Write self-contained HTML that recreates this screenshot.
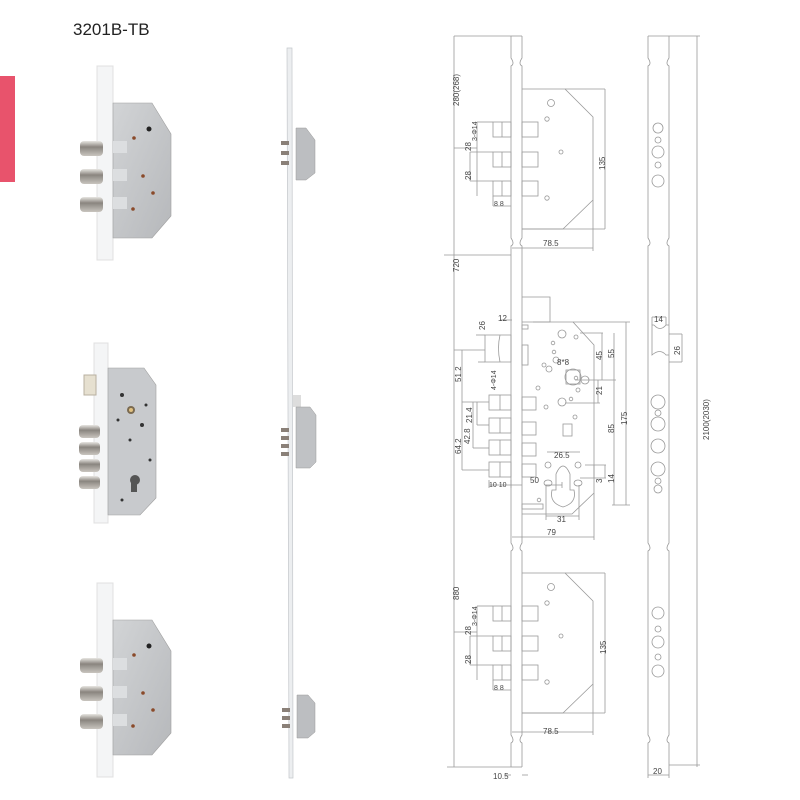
<!DOCTYPE html>
<html><head><meta charset="utf-8"><style>
html,body{margin:0;padding:0;background:#fff;}
svg{display:block;}
text{font-family:"Liberation Sans",sans-serif;fill:#444;}
</style></head><body>
<svg width="800" height="800" viewBox="0 0 800 800" xmlns="http://www.w3.org/2000/svg">
<defs>
<linearGradient id="bolt" x1="0" y1="0" x2="0" y2="1">
<stop offset="0" stop-color="#e8e6e2"/><stop offset="0.4" stop-color="#8a857f"/><stop offset="1" stop-color="#c9c5bf"/>
</linearGradient>
<linearGradient id="plate" x1="0" y1="0" x2="1" y2="1">
<stop offset="0" stop-color="#d2d4d6"/><stop offset="1" stop-color="#b6b8bb"/>
</linearGradient>
<g id="photo3">
<rect x="97" y="0" width="16" height="194" fill="#f4f5f6" stroke="#e0e0e0"/>
<path d="M113 37 L152 37 L171 68 L171 150 L152 172 L113 172 Z" fill="url(#plate)" stroke="#a0a0a0" stroke-width="0.6"/>
<rect x="113" y="75" width="14" height="12" fill="#dcdee0"/><rect x="113" y="103" width="14" height="12" fill="#dcdee0"/><rect x="113" y="131" width="14" height="12" fill="#dcdee0"/>
<rect x="80" y="75" width="23" height="15" rx="4" fill="url(#bolt)"/>
<rect x="80" y="103" width="23" height="15" rx="4" fill="url(#bolt)"/>
<rect x="80" y="131" width="23" height="15" rx="4" fill="url(#bolt)"/>
<circle cx="149" cy="63" r="2.5" fill="#222"/>
<circle cx="134" cy="72" r="1.8" fill="#8a4a2a"/><circle cx="143" cy="110" r="1.8" fill="#8a4a2a"/><circle cx="153" cy="127" r="1.8" fill="#8a4a2a"/><circle cx="133" cy="143" r="1.8" fill="#8a4a2a"/>
</g>
<g id="lock3" fill="none" stroke="#999" stroke-width="0.8">
<path d="M522 0 L565 0 L593 28 L593 111 L563 140 L522 140"/>
<line x1="522" y1="140" x2="605" y2="140"/><line x1="565" y1="0" x2="605" y2="0"/>
<line x1="605" y1="0" x2="605" y2="140"/>
<rect x="522" y="33" width="16" height="15"/><rect x="522" y="63" width="16" height="15"/><rect x="522" y="92" width="16" height="15"/>
<rect x="493" y="33" width="18" height="15"/><line x1="502" y1="33" x2="502" y2="48"/>
<rect x="493" y="63" width="18" height="15"/><line x1="502" y1="63" x2="502" y2="78"/>
<rect x="493" y="92" width="18" height="15"/><line x1="502" y1="92" x2="502" y2="107"/>
<circle cx="551" cy="14" r="3.5"/><circle cx="547" cy="30" r="2.2"/><circle cx="561" cy="63" r="2"/><circle cx="547" cy="109" r="2.2"/>
<line x1="477" y1="33" x2="493" y2="33"/><line x1="477" y1="33" x2="477" y2="107"/>
<line x1="470" y1="63" x2="493" y2="63"/><line x1="470" y1="92" x2="493" y2="92"/>
<line x1="470" y1="63" x2="470" y2="92"/>
<line x1="454" y1="59" x2="477" y2="59"/>
<line x1="493" y1="107" x2="493" y2="117"/><line x1="511" y1="117" x2="493" y2="117"/>
<line x1="512" y1="159" x2="593" y2="159"/><line x1="593" y1="111" x2="593" y2="162"/>
</g>
</defs>

<text x="73" y="35" font-size="17" style="fill:#222">3201B-TB</text>
<rect x="0" y="76" width="15" height="106" fill="#e8536c"/>

<use href="#photo3" transform="translate(0,66)"/>
<use href="#photo3" transform="translate(0,583)"/>
<!-- middle photo -->
<rect x="94" y="343" width="14" height="180" fill="#f4f5f6" stroke="#e0e0e0"/>
<rect x="84" y="375" width="12" height="20" fill="#e6e0d0" stroke="#b8b0a0"/>
<path d="M108 368 L144 368 L156 385 L156 498 L140 515 L108 515 Z" fill="#c8cacd" stroke="#a0a0a0" stroke-width="0.6"/>
<circle cx="131" cy="410" r="4" fill="#7a6a50"/><circle cx="131" cy="410" r="2" fill="#e0c080"/>
<circle cx="135" cy="480" r="5" fill="#555"/><rect x="131" y="480" width="6" height="12" fill="#555"/>
<circle cx="122" cy="395" r="2" fill="#333"/><circle cx="142" cy="425" r="2" fill="#333"/><circle cx="130" cy="440" r="1.5" fill="#333"/><circle cx="146" cy="405" r="1.5" fill="#333"/>
<circle cx="118" cy="420" r="1.5" fill="#333"/><circle cx="150" cy="460" r="1.5" fill="#333"/><circle cx="122" cy="500" r="1.5" fill="#333"/>
<rect x="79" y="425" width="21" height="13" rx="4" fill="url(#bolt)"/>
<rect x="79" y="442" width="21" height="13" rx="4" fill="url(#bolt)"/>
<rect x="79" y="459" width="21" height="13" rx="4" fill="url(#bolt)"/>
<rect x="79" y="476" width="21" height="13" rx="4" fill="url(#bolt)"/>

<!-- long rod -->
<polygon points="287,48 292,48 293,778 289,778" fill="#eceef0" stroke="#c4c7cb" stroke-width="0.7"/>
<path d="M296 128 L306 128 L315 140 L315 173 L306 180 L296 180 Z" fill="#bcbec1" stroke="#999" stroke-width="0.5"/>
<rect x="281" y="141" width="8" height="4" fill="#8a8078"/><rect x="281" y="151" width="8" height="4" fill="#8a8078"/><rect x="281" y="161" width="8" height="4" fill="#8a8078"/>
<rect x="293" y="395" width="8" height="12" fill="#ddd"/>
<path d="M296 407 L310 407 L316 415 L316 462 L310 468 L296 468 Z" fill="#c0c2c5" stroke="#999" stroke-width="0.5"/>
<rect x="281" y="428" width="8" height="4" fill="#8a8078"/><rect x="281" y="436" width="8" height="4" fill="#8a8078"/><rect x="281" y="444" width="8" height="4" fill="#8a8078"/><rect x="281" y="452" width="8" height="4" fill="#8a8078"/>
<path d="M297 695 L308 695 L315 703 L315 732 L308 738 L297 738 Z" fill="#bcbec1" stroke="#999" stroke-width="0.5"/>
<rect x="282" y="708" width="8" height="4" fill="#8a8078"/><rect x="282" y="716" width="8" height="4" fill="#8a8078"/><rect x="282" y="724" width="8" height="4" fill="#8a8078"/>

<g fill="none" stroke="#999" stroke-width="0.8">
<path d="M511 36 L511 58 Q515 64 511 66 L511 238 Q515 244 511 246 L511 543 Q515 549 511 551 L511 735 Q515 741 511 743 L511 767"/>
<path d="M522 36 L522 58 Q518 64 522 66 L522 238 Q518 244 522 246 L522 543 Q518 549 522 551 L522 735 Q518 741 522 743 L522 767"/>
<line x1="511" y1="36" x2="522" y2="36"/>
<line x1="511" y1="767" x2="522" y2="767"/>
<line x1="454" y1="36" x2="511" y2="36"/>
<line x1="454" y1="36" x2="454" y2="767"/>
<line x1="447" y1="767" x2="511" y2="767"/>
<line x1="444" y1="255" x2="511" y2="255"/>
<line x1="505" y1="775" x2="511" y2="775"/><line x1="522" y1="775" x2="528" y2="775"/>
<path d="M648 36 L648 58 Q652 64 648 66 L648 238 Q652 244 648 246 L648 543 Q652 549 648 551 L648 735 Q652 741 648 743 L648 767"/>
<path d="M669 36 L669 58 Q665 64 669 66 L669 238 Q665 244 669 246 L669 543 Q665 549 669 551 L669 735 Q665 741 669 743 L669 767"/>
<line x1="648" y1="36" x2="669" y2="36"/>
<line x1="669" y1="36" x2="700" y2="36"/><line x1="697" y1="36" x2="697" y2="767"/>
<line x1="669" y1="765" x2="700" y2="765"/>
<line x1="648" y1="767" x2="648" y2="778"/><line x1="669" y1="767" x2="669" y2="778"/>
<line x1="648" y1="775" x2="669" y2="775"/>
<path d="M654 325 Q660 332 666 325 L669 325 M654 325 L652 325 L652 355 Q660 348 666 355 L669 355"/>
<line x1="652" y1="317" x2="666" y2="317"/><line x1="652" y1="317" x2="652" y2="325"/><line x1="666" y1="317" x2="666" y2="325"/>
<line x1="669" y1="334" x2="682" y2="334"/><line x1="669" y1="362" x2="682" y2="362"/><line x1="682" y1="334" x2="682" y2="362"/>
<circle cx="658" cy="128" r="5"/><circle cx="658" cy="140" r="3"/><circle cx="658" cy="152" r="6"/><circle cx="658" cy="165" r="3"/><circle cx="658" cy="181" r="6"/>
<circle cx="658" cy="402" r="7"/><circle cx="658" cy="413" r="3"/><circle cx="658" cy="424" r="7"/><circle cx="658" cy="446" r="7"/><circle cx="658" cy="469" r="7"/><circle cx="658" cy="481" r="3"/><circle cx="658" cy="489" r="4"/>
<circle cx="658" cy="613" r="6"/><circle cx="658" cy="629" r="3"/><circle cx="658" cy="642" r="6"/><circle cx="658" cy="657" r="3"/><circle cx="658" cy="671" r="6"/>
</g>
<use href="#lock3" transform="translate(0,89)"/>
<use href="#lock3" transform="translate(0,573)"/>

<g fill="none" stroke="#999" stroke-width="0.8">
<path d="M522 297 L550 297 L550 322 L522 322"/>
<path d="M533 322 L573 322 L594 345 L594 493 L572 514 L522 514"/>
<line x1="573" y1="322" x2="630" y2="322"/><line x1="626" y1="322" x2="626" y2="505"/><line x1="612" y1="505" x2="630" y2="505"/>
<line x1="580" y1="333" x2="603" y2="333"/><line x1="602" y1="333" x2="602" y2="380"/><line x1="614" y1="333" x2="614" y2="505"/>
<line x1="575" y1="380" x2="616" y2="380"/><line x1="598" y1="380" x2="598" y2="403"/><line x1="565" y1="403" x2="600" y2="403"/>
<rect x="566" y="370" width="14" height="14"/><circle cx="573" cy="377" r="8"/>
<circle cx="562" cy="334" r="4"/><circle cx="576" cy="337" r="2"/><circle cx="553" cy="343" r="1.8"/><circle cx="554" cy="352" r="1.8"/>
<circle cx="544" cy="365" r="2"/><circle cx="556" cy="360" r="3"/><circle cx="549" cy="369" r="3"/><circle cx="585" cy="380" r="4"/><circle cx="576" cy="378" r="1.8"/>
<circle cx="538" cy="388" r="2"/><circle cx="578" cy="390" r="2"/><circle cx="562" cy="402" r="4"/><circle cx="571" cy="399" r="1.8"/><circle cx="546" cy="407" r="2"/><circle cx="575" cy="417" r="2"/>
<rect x="563" y="424" width="9" height="12"/>
<circle cx="548" cy="465" r="3"/><circle cx="578" cy="465" r="3"/>
<path d="M556 474 Q563 458 570 474 L570 490 L574 490 Q577 503 563 507 Q549 503 552 490 L556 490 Z"/>
<ellipse cx="548" cy="483" rx="4" ry="3"/><ellipse cx="578" cy="483" rx="4" ry="3"/>
<circle cx="539" cy="500" r="1.8"/><rect x="522" y="504" width="21" height="5"/>
<line x1="547" y1="452" x2="580" y2="452"/>
<line x1="546" y1="485" x2="546" y2="520"/><line x1="579" y1="485" x2="579" y2="520"/><line x1="546" y1="516" x2="579" y2="516"/>
<line x1="585" y1="465" x2="606" y2="465"/><line x1="580" y1="478" x2="606" y2="478"/>
<line x1="594" y1="465" x2="594" y2="478"/><line x1="605" y1="465" x2="605" y2="478"/>
<line x1="545" y1="485" x2="562" y2="485"/><line x1="562" y1="482" x2="562" y2="488"/>
<rect x="522" y="325" width="6" height="4"/><rect x="522" y="345" width="6" height="20"/>
<rect x="522" y="397" width="14" height="13"/><rect x="522" y="422" width="14" height="13"/><rect x="522" y="443" width="14" height="13"/><rect x="522" y="464" width="14" height="13"/>
<rect x="489" y="395" width="22" height="15"/><line x1="500" y1="395" x2="500" y2="410"/>
<rect x="489" y="418" width="22" height="15"/><line x1="500" y1="418" x2="500" y2="433"/>
<rect x="489" y="440" width="22" height="15"/><line x1="500" y1="440" x2="500" y2="455"/>
<rect x="489" y="462" width="22" height="15"/><line x1="500" y1="462" x2="500" y2="477"/>
<path d="M485 335 L511 335 L511 362 L485 362 Z"/><path d="M500 335 Q497 348 500 362"/>
<line x1="500" y1="320" x2="512" y2="320"/>
<line x1="476" y1="335" x2="485" y2="335"/><line x1="478" y1="362" x2="485" y2="362"/>
<line x1="454" y1="350" x2="485" y2="350"/><line x1="462" y1="350" x2="462" y2="470"/>
<line x1="462" y1="402" x2="489" y2="402"/><line x1="473" y1="402" x2="473" y2="448"/><line x1="477" y1="402" x2="477" y2="425"/>
<line x1="473" y1="448" x2="489" y2="448"/><line x1="477" y1="425" x2="489" y2="425"/>
<line x1="462" y1="470" x2="489" y2="470"/>
<line x1="489" y1="480" x2="489" y2="488"/><line x1="511" y1="480" x2="511" y2="488"/><line x1="489" y1="485" x2="522" y2="485"/>
<line x1="512" y1="537" x2="594" y2="537"/><line x1="594" y1="493" x2="594" y2="540"/>
</g>

<g font-size="8">
<text x="459" y="106" transform="rotate(-90 459 106)">280(268)</text>
<text x="459" y="272" transform="rotate(-90 459 272)">720</text>
<text x="459" y="600" transform="rotate(-90 459 600)">880</text>
<text x="709" y="440" transform="rotate(-90 709 440)">2100(2030)</text>
<text x="477" y="141" transform="rotate(-90 477 141)" font-size="7">3-Φ14</text>
<text x="471" y="151" transform="rotate(-90 471 151)">28</text>
<text x="471" y="180" transform="rotate(-90 471 180)">28</text>
<text x="494" y="206" font-size="7">8 8</text>
<text x="605" y="170" transform="rotate(-90 605 170)">135</text>
<text x="543" y="246">78.5</text>
<text x="477" y="626" transform="rotate(-90 477 626)" font-size="7">3-Φ14</text>
<text x="471" y="635" transform="rotate(-90 471 635)">28</text>
<text x="471" y="664" transform="rotate(-90 471 664)">28</text>
<text x="494" y="690" font-size="7">8 8</text>
<text x="606" y="654" transform="rotate(-90 606 654)">135</text>
<text x="543" y="734">78.5</text>
<text x="493" y="779">10.5</text>
<text x="653" y="774">20</text>
<text x="654" y="322">14</text>
<text x="680" y="355" transform="rotate(-90 680 355)">26</text>
<text x="485" y="330" transform="rotate(-90 485 330)">26</text>
<text x="498" y="321">12</text>
<text x="461" y="382" transform="rotate(-90 461 382)">51.2</text>
<text x="496" y="390" transform="rotate(-90 496 390)" font-size="7">4-Φ14</text>
<text x="472" y="423" transform="rotate(-90 472 423)">21.4</text>
<text x="470" y="444" transform="rotate(-90 470 444)">42.8</text>
<text x="461" y="454" transform="rotate(-90 461 454)">64.2</text>
<text x="489" y="487" font-size="7">10 10</text>
<text x="530" y="483">50</text>
<text x="557" y="365">8*8</text>
<text x="602" y="360" transform="rotate(-90 602 360)">45</text>
<text x="614" y="358" transform="rotate(-90 614 358)">55</text>
<text x="602" y="395" transform="rotate(-90 602 395)">21</text>
<text x="614" y="433" transform="rotate(-90 614 433)">85</text>
<text x="627" y="425" transform="rotate(-90 627 425)">175</text>
<text x="554" y="458">26.5</text>
<text x="602" y="483" transform="rotate(-90 602 483)">3</text>
<text x="614" y="483" transform="rotate(-90 614 483)">14</text>
<text x="557" y="522">31</text>
<text x="547" y="535">79</text>
</g>
</svg>
</body></html>
